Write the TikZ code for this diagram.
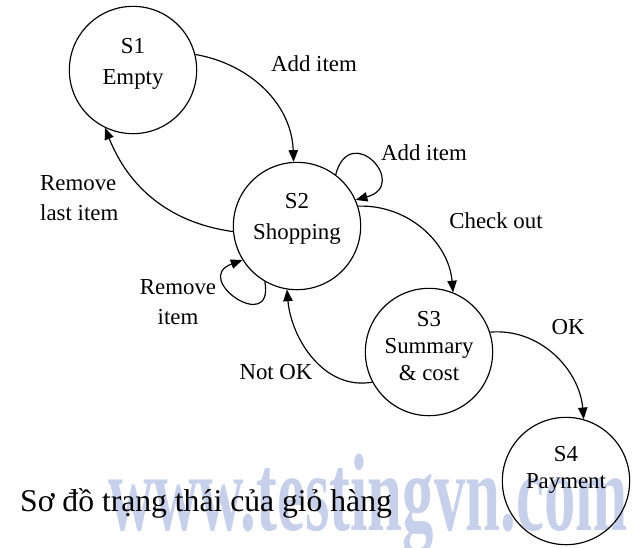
\documentclass[tikz,border=0pt]{standalone}
\usepackage{fontspec}
\setmainfont{Liberation Serif}
\usepackage{xcolor}
\usetikzlibrary{arrows.meta, positioning}
\definecolor{markblue}{RGB}{198,208,234}

\begin{document}
\begin{tikzpicture}[x=0.03cm, y=-0.03cm, >={Triangle[length=10pt,width=8pt]},
        state/.style={draw, circle, line width=1pt, minimum size=3.82cm, inner sep=0pt},
        statetext/.style={align=center, anchor=base, inner sep=0pt},
        wide/.style={font=\fontsize{19.5}{26.4}\selectfont},
        tight/.style={font=\fontsize{19.5}{23}\selectfont},
        trans/.style={->, line width=1pt},
        lbl/.style={font=\fontsize{19.5}{23}\selectfont, inner sep=0pt}]
        \useasboundingbox (0,0) rectangle (638,547);

        % watermark
        \node[anchor=base west, inner sep=0pt, text=markblue, xscale=0.57,
            font=\fontsize{94}{94}\selectfont\bfseries] (mark) at (108,530) {www.testingvn.com};

        \node[state] (s1) at (133,70) {};
        \node[state] (s2) at (297,226) {};
        \node[state] (s3) at (429,352) {};
        \node[state] (s4) at (566,481) {};

        % base = baseline of the last line
        \node[statetext, wide] (s1text) at (133,84) {S1\\Empty};
        \node[statetext, wide] (s2text) at (297,239) {S2\\Shopping};
        \node[statetext, tight] (s3text) at (429,380) {S3\\Summary\\\& cost};
        \node[statetext, tight] (s4text) at (566,488) {S4\\Payment};

        \draw[trans] (s1.14) to[out=-10, in=92] (s2.93);
        \draw[trans] (s2.185) to[out=172, in=-68] (s1.244);
        \draw[trans] (s2.53) to[out=75, in=15, looseness=4.5] (s2.24);
        \draw[trans] (s2.240) to[out=-80, in=200, looseness=4.5] (s2.212);
        \draw[trans] (s2.18) to[out=2, in=95] (s3.68);
        \draw[trans] (s3.208) to[out=190, in=-85] (s2.261);
        \draw[trans] (s3.18) to[out=5, in=95] (s4.74);

        \node[lbl] (addone) at (314,64) {Add item};
        \node[lbl] (addtwo) at (424,153) {Add item};
        \node[lbl, align=left, anchor=west] (remlast) at (40,198) {Remove\\[3pt]last item};
        \node[lbl, align=center] (remitem) at (178,302) {Remove\\[3pt]item};
        \node[lbl] (checkout) at (496,221) {Check out};
        \node[lbl] (notok) at (276,372) {Not OK};
        \node[lbl] (ok) at (568,327) {OK};

        \node[anchor=base west, inner sep=0pt, font=\fontsize{27}{30}\selectfont] (caption)
            at (20,511) {Sơ đồ trạng thái của giỏ hàng};
\end{tikzpicture}
\end{document}
